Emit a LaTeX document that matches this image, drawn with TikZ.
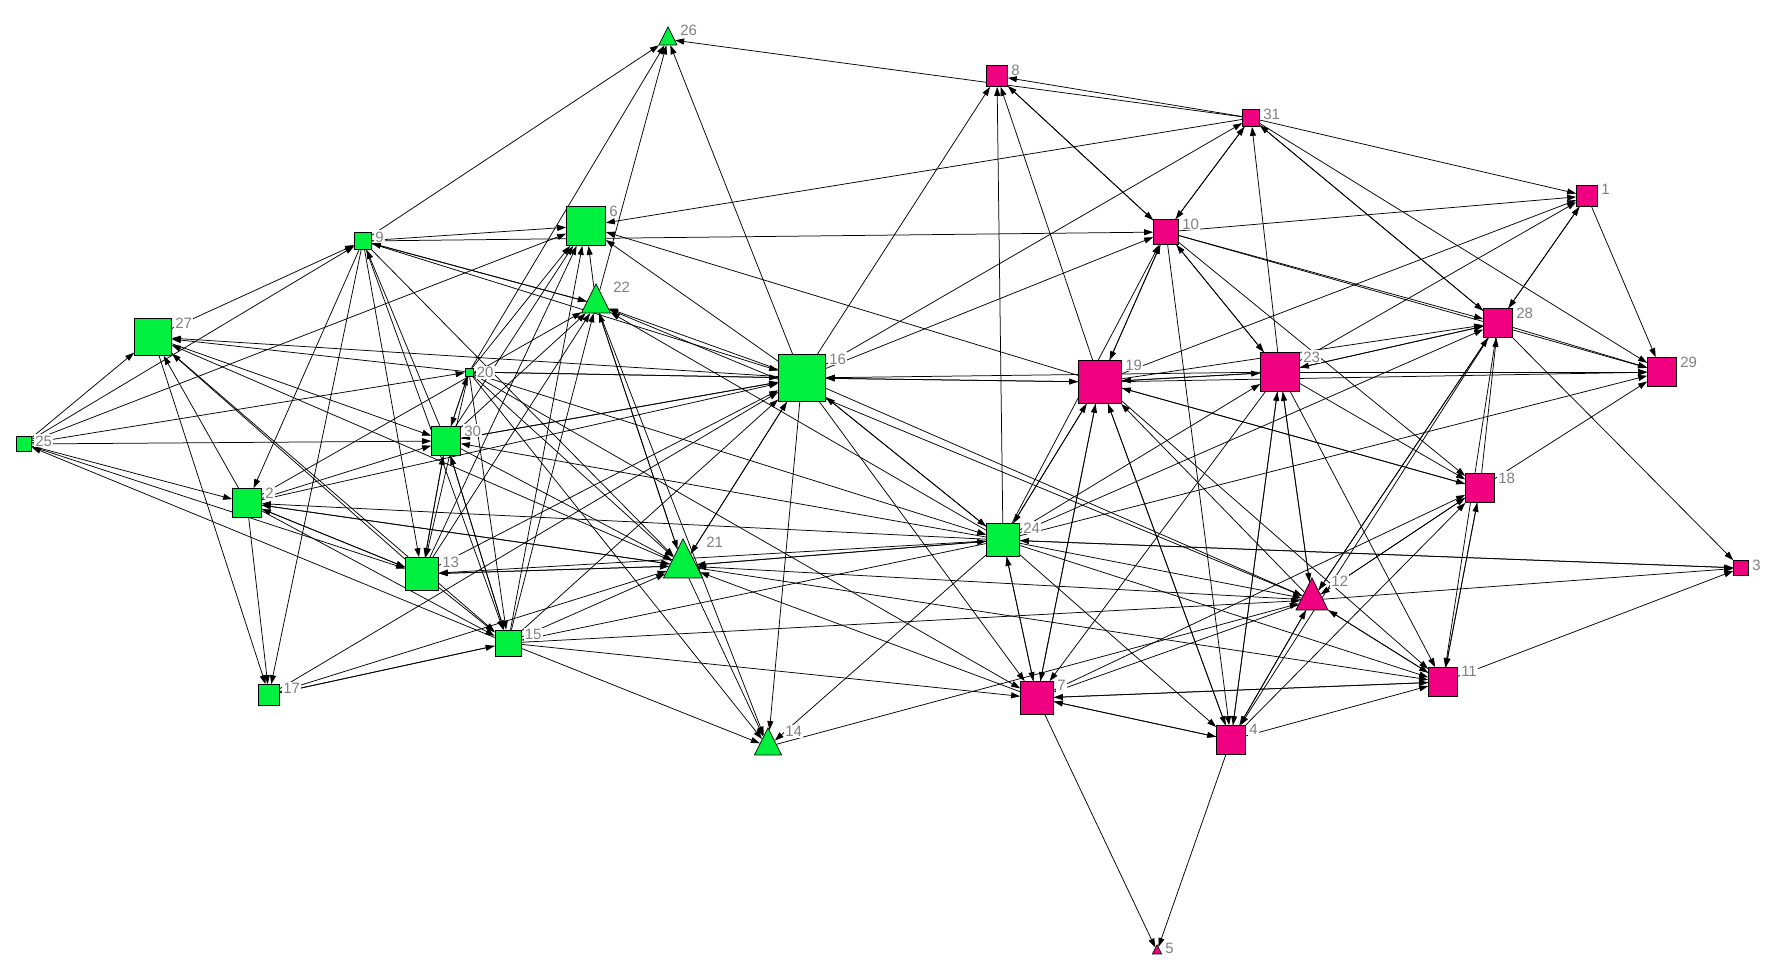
\documentclass[tikz,border=0pt]{standalone}
\usepackage{fontspec}
\setmainfont{Liberation Sans}
\usetikzlibrary{arrows.meta,shapes.geometric}
\definecolor{ngreen}{RGB}{0,240,64}
\definecolor{npink}{RGB}{240,0,128}
\definecolor{lblgray}{RGB}{128,128,128}
\pgfdeclarelayer{edges}
\pgfsetlayers{edges,main}
\begin{document}
\begin{tikzpicture}[x=1pt,y=-1pt,
  sq/.style={rectangle,draw=black,line width=0.7pt,inner sep=0pt,minimum size=#1},
  tri/.style={isosceles triangle,isosceles triangle stretches,shape border rotate=90,draw=black,line width=0.7pt,inner sep=0pt,minimum width=#1,minimum height=#1,anchor=apex},
  G/.style={fill=ngreen}, P/.style={fill=npink},
  lbl/.style={text=lblgray,fill=white,font=\fontsize{15}{15}\selectfont,inner sep=1.2pt,anchor=north west},
  edge/.style={draw=black,line width=0.75pt,-{Triangle[length=9pt,width=6pt]}}
]
\useasboundingbox (0,0) rectangle (1778,972);
% squares
\foreach \n/\x/\y/\s/\c in {9/363/241/17/G,27/153/337/37/G,25/24/444/15/G,2/247/503/29/G,13/422/574/33/G,30/446/441/29/G,20/469/372/8/G,16/802/378/47/G,15/508/643/26/G,6/586/226/39/G,17/269/695/21/G,24/1003/540/33/G,8/997/76/21/P,31/1251/118/17/P,10/1166/232/25/P,1/1587/196/21/P,28/1498/323/29/P,29/1662/372/29/P,18/1480/488/29/P,3/1741/568/15/P,19/1100/382/43/P,23/1280/372/39/P,11/1443/682/29/P,7/1037/698/33/P,4/1231/740/29/P}{
  \node[sq=\s pt,\c] (n\n) at (\x,\y) {};
  \node[lbl] (l\n) at ([xshift=2pt,yshift=2pt]n\n.north east) {\n};
}
% triangles
\foreach \n/\x/\y/\s/\c/\lx/\ly in {21/683/538/39/G/705/536,22/596/283/29/G/612/281,26/668/26/18/G/679/24,14/768/727/27/G/784/725,12/1312/577/32/P/1330/575,5/1157/944/9/P/1164/942}{
  \node[tri=\s pt,\c] (n\n) at (\x,\y) {};
  \node[lbl] (l\n) at (\lx,\ly) {\n};
}
\begin{pgfonlayer}{edges}
\foreach \a/\b in {9/26,20/26,22/26,16/26,31/26,
31/8,16/8,24/8,19/8,8/10,10/8,
10/31,31/10,31/1,10/1,19/1,23/1,28/1,1/28,1/29,
31/28,28/31,31/29,23/31,16/31,31/6,
10/28,16/10,24/10,19/10,10/19,10/4,10/23,23/10,10/18,10/29,
25/27,27/9,25/9,25/6,25/20,25/30,25/2,25/13,15/25,
16/27,20/27,27/30,21/27,13/27,27/15,2/27,27/17,
9/6,9/10,22/9,9/22,9/16,9/2,9/17,9/13,30/9,9/15,9/21,
19/6,16/6,22/6,20/6,30/6,13/6,15/6,
22/21,21/22,22/14,16/22,24/22,12/22,30/22,13/22,15/22,2/22,
20/16,16/20,20/30,30/20,20/13,20/15,20/21,20/24,20/14,20/7,
30/16,16/30,30/13,13/30,30/15,15/30,30/21,24/30,
2/30,2/16,24/2,2/13,13/2,2/15,2/17,2/21,21/2,
13/16,13/21,21/13,24/13,13/15,
15/16,15/21,24/15,15/12,15/14,15/7,17/15,15/17,
17/16,17/21,
21/16,16/21,21/24,24/21,21/14,7/21,12/21,21/11,
16/14,24/14,14/12,
16/24,24/16,16/7,16/12,16/19,19/16,23/16,
19/24,24/19,24/23,24/28,24/29,24/7,7/24,24/4,24/12,24/11,24/3,3/24,
19/23,23/19,19/29,19/28,19/7,7/19,19/4,4/19,12/19,18/19,19/18,19/11,
23/28,28/23,23/29,23/7,23/4,4/23,12/23,23/12,23/11,23/18,
28/29,12/28,28/12,28/3,28/11,28/4,18/28,18/29,
18/12,12/18,18/11,11/18,7/18,4/18,
12/3,12/11,11/12,12/4,4/12,12/7,
11/3,11/7,7/11,4/11,
7/4,4/7,7/5,4/5}{
  \draw[edge] (n\a) -- (n\b);
}
\end{pgfonlayer}
\end{tikzpicture}
\end{document}
